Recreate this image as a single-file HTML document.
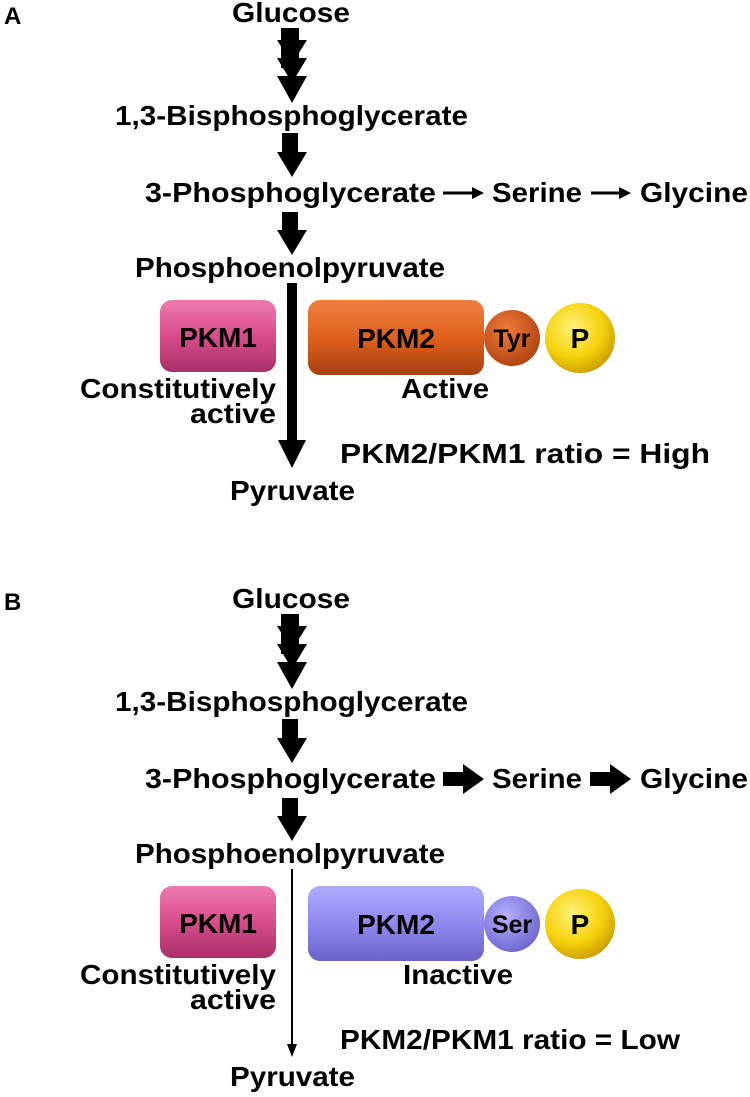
<!DOCTYPE html>
<html><head><meta charset="utf-8"><style>
html,body{margin:0;padding:0;background:#fff;}
svg{display:block;}
text{font-family:"Liberation Sans",Arial,sans-serif;font-weight:bold;fill:#000;}
</style></head><body>
<svg width="750" height="1097" viewBox="0 0 750 1097" xmlns="http://www.w3.org/2000/svg">
<defs>
<linearGradient id="pk1" x1="0" y1="0" x2="0" y2="1"><stop offset="0" stop-color="#ee7ab0"/><stop offset="0.5" stop-color="#d94c8b"/><stop offset="1" stop-color="#a8306a"/></linearGradient>
<linearGradient id="pk2" x1="0" y1="0" x2="0" y2="1"><stop offset="0" stop-color="#f08040"/><stop offset="0.5" stop-color="#e0601c"/><stop offset="1" stop-color="#a84010"/></linearGradient>
<linearGradient id="pk2b" x1="0" y1="0" x2="0" y2="1"><stop offset="0" stop-color="#b0acff"/><stop offset="0.5" stop-color="#8f88f0"/><stop offset="1" stop-color="#6a62c8"/></linearGradient>
<radialGradient id="tyr" cx="0.4" cy="0.35" r="0.7"><stop offset="0" stop-color="#f07a3a"/><stop offset="1" stop-color="#b04210"/></radialGradient>
<radialGradient id="ser" cx="0.4" cy="0.35" r="0.7"><stop offset="0" stop-color="#b5b0ff"/><stop offset="1" stop-color="#6c64d0"/></radialGradient>
<radialGradient id="pp" cx="0.4" cy="0.35" r="0.7"><stop offset="0" stop-color="#fff27a"/><stop offset="0.6" stop-color="#f5d20a"/><stop offset="1" stop-color="#c89a00"/></radialGradient>
<g id="common">
<text x="232" y="22" font-size="28" textLength="118" lengthAdjust="spacingAndGlyphs">Glucose</text>
<rect x="281" y="28" width="18" height="40" fill="#000"/>
<polygon points="277,40 307,40 292,64" fill="#000"/>
<polygon points="277,58 307,58 292,83" fill="#000"/>
<polygon points="277,76 307,76 292,103" fill="#000"/>
<text x="115" y="125" font-size="28" textLength="353" lengthAdjust="spacingAndGlyphs">1,3-Bisphosphoglycerate</text>
<rect x="282" y="133" width="16" height="20" fill="#000"/>
<polygon points="277,152 307,152 292,177" fill="#000"/>
<text x="145" y="202" font-size="28" textLength="291" lengthAdjust="spacingAndGlyphs">3-Phosphoglycerate</text>
<text x="492" y="202" font-size="28" textLength="90" lengthAdjust="spacingAndGlyphs">Serine</text>
<text x="640" y="202" font-size="28" textLength="108" lengthAdjust="spacingAndGlyphs">Glycine</text>
<rect x="282" y="212" width="16" height="20" fill="#000"/>
<polygon points="277,230 307,230 292,255" fill="#000"/>
<text x="135" y="277" font-size="28" textLength="310" lengthAdjust="spacingAndGlyphs">Phosphoenolpyruvate</text>
<rect x="160" y="300" width="116" height="72" rx="12" fill="url(#pk1)"/>
<text x="218" y="347" font-size="28" text-anchor="middle">PKM1</text>
<text x="80" y="398" font-size="28" textLength="196" lengthAdjust="spacingAndGlyphs">Constitutively</text>
<text x="190" y="423" font-size="28" textLength="86" lengthAdjust="spacingAndGlyphs">active</text>
<circle cx="580" cy="338" r="35" fill="url(#pp)"/>
<text x="580" y="348" font-size="28" text-anchor="middle">P</text>
<text x="230" y="500" font-size="28" textLength="125" lengthAdjust="spacingAndGlyphs">Pyruvate</text>
</g>
</defs>

<text x="4" y="24" font-size="24">A</text>
<use href="#common"/>
<line x1="443" y1="193" x2="474" y2="193" stroke="#000" stroke-width="3"/>
<polygon points="472,187 484,193 472,199" fill="#000"/>
<line x1="591" y1="193" x2="621" y2="193" stroke="#000" stroke-width="3"/>
<polygon points="619,187 631,193 619,199" fill="#000"/>
<rect x="287" y="283" width="10" height="160" fill="#000"/>
<polygon points="278,440 306,440 292,468" fill="#000"/>
<rect x="308" y="300" width="176" height="75" rx="12" fill="url(#pk2)"/>
<text x="396" y="348" font-size="28" text-anchor="middle">PKM2</text>
<circle cx="512" cy="338" r="28" fill="url(#tyr)"/>
<text x="512" y="347" font-size="25" text-anchor="middle">Tyr</text>
<text x="401" y="398" font-size="28" textLength="88" lengthAdjust="spacingAndGlyphs">Active</text>
<text x="340" y="463" font-size="28" textLength="370" lengthAdjust="spacingAndGlyphs">PKM2/PKM1 ratio = High</text>

<g transform="translate(0,586)">
<text x="4" y="24" font-size="24">B</text>
<use href="#common"/>
<rect x="443" y="186" width="22" height="14" fill="#000"/>
<polygon points="463,178 484,193 463,208" fill="#000"/>
<rect x="590" y="186" width="22" height="14" fill="#000"/>
<polygon points="610,178 631,193 610,208" fill="#000"/>
<line x1="292" y1="283" x2="292" y2="462" stroke="#000" stroke-width="2"/>
<polygon points="287,458 297,458 292,471" fill="#000"/>
<rect x="308" y="300" width="176" height="75" rx="12" fill="url(#pk2b)"/>
<text x="396" y="348" font-size="28" text-anchor="middle">PKM2</text>
<circle cx="512" cy="338" r="28" fill="url(#ser)"/>
<text x="512" y="347" font-size="25" text-anchor="middle">Ser</text>
<text x="403" y="398" font-size="28" textLength="110" lengthAdjust="spacingAndGlyphs">Inactive</text>
<text x="340" y="463" font-size="28" textLength="340" lengthAdjust="spacingAndGlyphs">PKM2/PKM1 ratio = Low</text>
</g>
</svg>
</body></html>
